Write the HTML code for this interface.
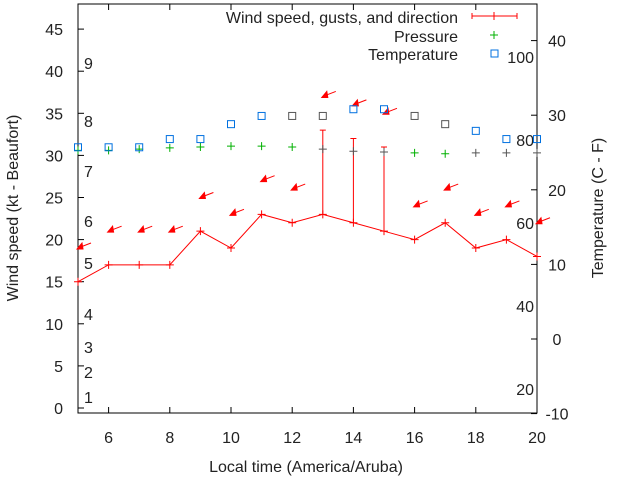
<!DOCTYPE html>
<html><head><meta charset="utf-8"><style>
body{margin:0;background:#fff}
svg text{font-family:"Liberation Sans",sans-serif;font-size:16px;fill:#222}
</style></head><body>
<svg width="640" height="480" id="c"></svg>
<script>
const hours=[5,6,7,8,9,10,11,12,13,14,15,16,17,18,19,20];
const speed=[15,17,17,17,21,19,23,22,23,22,21,20,22,19,20,18];
const gust=[null,null,null,null,null,null,null,null,33,32,31,null,null,null,null,null];
const pressure=[30.6,30.6,30.75,30.9,31.0,31.1,31.1,31.0,30.75,30.5,30.4,30.3,30.2,30.3,30.3,30.3];
const pressColor=['#00b000','#00b000','#00b000','#00b000','#00b000','#00b000','#00b000','#00b000','#555','#555','#555','#00b000','#00b000','#555','#555','#555'];
const temp=[25.7,25.7,25.7,26.8,26.8,28.8,29.9,29.9,29.9,30.8,30.8,29.9,28.8,27.9,26.8,26.8];
const tempColor=['#0070e0','#0070e0','#0070e0','#0070e0','#0070e0','#0070e0','#0070e0','#555','#555','#0070e0','#0070e0','#555','#555','#0070e0','#0070e0','#0070e0'];
const xTicks=[6,8,10,12,14,16,18,20];
const yTicks=[0,5,10,15,20,25,30,35,40,45];
const y2Ticks=[-10,0,10,20,30,40];
const beaufort=[[1,397],[2,372],[3,347],[4,314],[5,263],[6,221],[7,171],[8,121],[9,63]];
const fahr=[[20,389],[40,306],[60,223],[80,140],[100,57]];
const L=78,R=537,T=4,B=413;
const X=h=>L+(h-5)*(R-L)/15;
const Y=v=>408-v*8.42;
const Y2=v=>339-v*7.46;
const s=document.getElementById('c');const NS='http://www.w3.org/2000/svg';
function el(t,a,p){const e=document.createElementNS(NS,t);for(const k in a)e.setAttribute(k,a[k]);(p||s).appendChild(e);return e;}
function txt(x,y,str,anchor){const e=el('text',{x:x,y:y,'text-anchor':anchor||'start'});e.textContent=str;return e;}
function plus(x,y,c,g){el('path',{d:`M${x-4} ${y}h8M${x} ${y-4}v8`,stroke:c,'stroke-width':1,fill:'none'},g);}
const fr=el('rect',{x:L,y:T,width:R-L,height:B-T,fill:'none',stroke:'#000','stroke-width':1});

xTicks.forEach(t=>{const x=X(t);el('path',{d:`M${x} ${B}v-6M${x} ${T}v6`,stroke:'#000'});const e=txt(x,443,String(t),'middle');});
yTicks.forEach(t=>{const y=Y(t);el('path',{d:`M${L} ${y}h6`,stroke:'#000'});const e=txt(L-15,y+6,String(t),'end');});
y2Ticks.forEach(t=>{const y=Y2(t);el('path',{d:`M${R} ${y}h-6`,stroke:'#000'});const e=txt(R+20,y+6,String(t),'middle');});
beaufort.forEach(b=>{const e=txt(84,b[1]+6,String(b[0]));});
fahr.forEach(f=>{const e=txt(534,f[1]+6,String(f[0]),'end');});
let e=txt(306,472,'Local time (America/Aruba)','middle');
e=txt(0,0,'Wind speed (kt - Beaufort)','middle');e.setAttribute('transform','translate(18,208) rotate(-90)');
e=txt(0,0,'Temperature (C - F)','middle');e.setAttribute('transform','translate(603,208) rotate(-90)');
const wg=el('g',{});
el('polyline',{points:hours.map((h,i)=>X(h)+','+Y(speed[i])).join(' '),fill:'none',stroke:'#f00','stroke-width':1},wg);
hours.forEach((h,i)=>{plus(X(h),Y(speed[i]),'#f00',wg);
 if(gust[i]!=null){const x=X(h);el('path',{d:`M${x} ${Y(speed[i])}V${Y(gust[i])}M${x-3} ${Y(gust[i])}h6`,stroke:'#f00'},wg);}
 const ay=Y(Math.max(speed[i],gust[i]||0)+4),ax=X(h);
 el('path',{d:`M${ax} ${ay}l13 -5`,stroke:'#f00'},wg);
 el('path',{d:`M${ax-1} ${ay+1}l5 -6l1 6z`,fill:'#f00',stroke:'#f00'},wg);
});
const pg=el('g',{});
hours.forEach((h,i)=>plus(X(h),Y(pressure[i]),pressColor[i],pg));
const tg=el('g',{});
hours.forEach((h,i)=>el('rect',{x:X(h)-3.5,y:Y2(temp[i])-3.5,width:7,height:7,fill:'none',stroke:tempColor[i],'stroke-width':1},tg));
const lg=el('g',{});
[['Wind speed, gusts, and direction',17],['Pressure',36],['Temperature',54]].forEach(a=>{const t=el('text',{x:458,y:a[1]+6,'text-anchor':'end'},lg);t.textContent=a[0];});
el('path',{d:'M472 16h45M472 13v6M517 13v6',stroke:'#f00'},lg);plus(494,16,'#f00',lg);
plus(494,35,'#00b000',lg);
el('rect',{x:491,y:50,width:7,height:7,fill:'none',stroke:'#0070e0'},lg);
</script></body></html>
